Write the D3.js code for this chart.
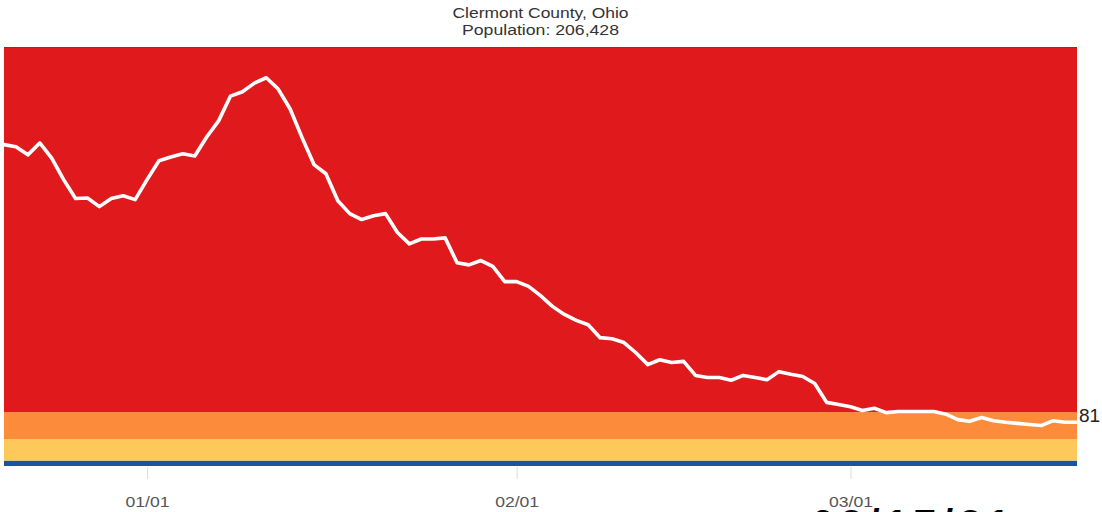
<!DOCTYPE html>
<html>
<head>
<meta charset="utf-8">
<script src="https://cdn.jsdelivr.net/npm/d3@7"></script>
<style>
  html, body { margin: 0; padding: 0; background: #fff; }
  svg { display: block; }
</style>
</head>
<body>
<svg id="chart" width="1102" height="512"></svg>
<script>
// ---- data ----
const titleLines = ["Clermont County, Ohio", "Population: 206,428"];
const startDate = "2020-12-20";
const values = [
  596, 592, 577, 599, 571, 531, 496, 497, 481, 496,
  501, 494, 531, 566, 573, 579, 575, 610, 640, 686,
  694, 710, 720, 699, 662, 609, 559, 542, 492, 468,
  457, 464, 468, 433, 412, 421, 421, 423, 377, 373,
  381, 370, 342, 342, 333, 316, 296, 281, 270, 262,
  238, 236, 229, 210, 188, 197, 192, 194, 168, 164,
  164, 159, 168, 164, 160, 175, 170, 166, 153, 118,
  114, 110, 103, 107, 99, 101, 101, 101, 101, 96,
  86, 83, 90, 84, 81, 79, 77, 75, 84, 81, 81
];
const bandBreaks = [0, 10, 50, 100, 777];
const bandColors = ["#1b52a3", "#fec95a", "#fd8b3c", "#e0191c"];
const tickDates = ["2021-01-01", "2021-02-01", "2021-03-01"];
const tickLabels = ["01/01", "02/01", "03/01"];
const yMax = 777;
const footerText = "02/17/21";

// ---- build ----
(function () {
  const parse = d3.timeParse("%Y-%m-%d");
  const t0 = parse(startDate);
  const series = values.map((v, i) => ({ date: d3.timeDay.offset(t0, i), value: v }));

  const svg = d3.select("#chart");
  const pl = 4, pr = 1077, pt = 47, pb = 466;

  const x = d3.scaleTime()
    .domain([t0, d3.timeDay.offset(t0, values.length - 1)])
    .range([pl, pr]);
  const y = d3.scaleLinear().domain([0, yMax]).range([pb, pt]);

  // bands
  const bands = bandColors.map((c, i) => ({ lo: bandBreaks[i], hi: bandBreaks[i + 1], color: c }));
  svg.append("g").selectAll("rect").data(bands).join("rect")
    .attr("x", pl)
    .attr("width", pr - pl)
    .attr("y", d => y(d.hi))
    .attr("height", d => y(d.lo) - y(d.hi))
    .attr("fill", d => d.color);

  // subtle top edge of the plot
  svg.append("line")
    .attr("x1", pl).attr("x2", pr)
    .attr("y1", y(yMax) + 0.5).attr("y2", y(yMax) + 0.5)
    .attr("stroke", "#d50f12").attr("stroke-width", 1);

  // line
  const line = d3.line()
    .x(d => x(d.date))
    .y(d => y(d.value));
  svg.append("path")
    .datum(series)
    .attr("d", line)
    .attr("fill", "none")
    .attr("stroke", "#ffffff")
    .attr("stroke-width", 3.6)
    .attr("stroke-linejoin", "round")
    .attr("stroke-linecap", "round");

  // last value label
  const last = series[series.length - 1];
  svg.append("text")
    .attr("x", x(last.date) + 2)
    .attr("y", y(last.value))
    .attr("font-family", "Liberation Sans, Arial, sans-serif")
    .attr("font-size", 19)
    .attr("fill", "#222")
    .text(last.value);

  // x axis
  const tickVals = tickDates.map(parse);
  const axis = d3.axisBottom(x)
    .tickValues(tickVals)
    .tickFormat((d, i) => tickLabels[i])
    .tickSize(12)
    .tickPadding(12);
  const gx = svg.append("g")
    .attr("transform", `translate(0,${pb + 1})`)
    .call(axis);
  gx.select(".domain").remove();
  gx.selectAll(".tick line").attr("stroke", "#ddd");
  gx.selectAll(".tick text")
    .attr("font-family", "Liberation Sans, Arial, sans-serif")
    .attr("font-size", 14)
    .attr("fill", "#555")
    .attr("dy", "0")
    .attr("y", 40)
    .attr("textLength", 44)
    .attr("lengthAdjust", "spacingAndGlyphs");

  // title
  const titleW = [176, 157];
  svg.append("g").selectAll("text").data(titleLines).join("text")
    .attr("x", (pl + pr) / 2)
    .attr("y", (d, i) => 18 + i * 17)
    .attr("text-anchor", "middle")
    .attr("font-family", "Liberation Sans, Arial, sans-serif")
    .attr("font-size", 14)
    .attr("fill", "#333")
    .attr("textLength", (d, i) => titleW[i])
    .attr("lengthAdjust", "spacingAndGlyphs")
    .text(d => d);

  // cut-off large text at the bottom edge
  svg.append("text")
    .attr("x", 812)
    .attr("y", 538)
    .attr("font-family", "Liberation Sans, Arial, sans-serif")
    .attr("font-weight", "bold")
    .attr("font-size", 40)
    .attr("letter-spacing", 6)
    .attr("fill", "#000")
    .text(footerText);
})();
</script>
</body>
</html>
